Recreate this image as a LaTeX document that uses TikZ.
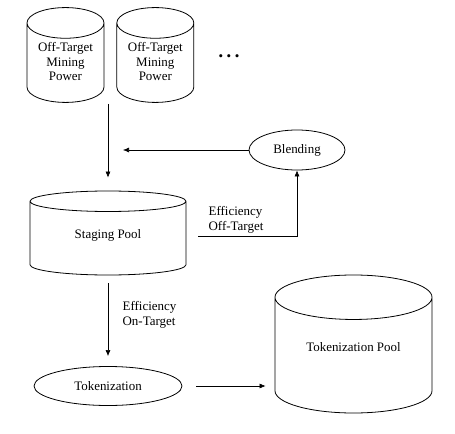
\documentclass[tikz,border=0pt]{standalone}
\usepackage{fontspec}
\setmainfont{Liberation Serif}
\usetikzlibrary{shapes.geometric,positioning,arrows.meta}

\begin{document}
\begin{tikzpicture}[->,>={Latex[length=6bp,width=5bp]},x=1bp,y=-1bp,
  font=\fontsize{13}{15}\selectfont,line width=0.6pt,
  pool/.style={cylinder,draw,shape border rotate=90,align=center,line width=0.8pt,anchor=shape center},
  proc/.style={ellipse,draw,line width=0.8pt}]
  \useasboundingbox (0,0) rectangle (455,434);

  \node[pool,aspect=0.5,text depth=9bp,minimum width=77bp,minimum height=84bp] (m1) at (65.5,55) {Off-Target\\Mining\\Power};
  \node[pool,aspect=0.5,text depth=9bp,minimum width=77bp,minimum height=84bp] (m2) [right=12bp of m1] {Off-Target\\Mining\\Power};
  \node (dots) at (229,58) {\textbullet\hspace{3.5bp}\textbullet\hspace{3.5bp}\textbullet};
  \node[proc,minimum width=96bp,minimum height=40bp] (bl) at (297,150) {Blending};
  \node[pool,aspect=0.28,text depth=11bp,minimum width=156bp,minimum height=84bp] (sp) at (108,233) {Staging Pool};
  \node[proc,minimum width=148bp,minimum height=39bp] (tk) at (108,386) {Tokenization};
  \node[pool,aspect=0.44,text depth=24bp,minimum width=157bp,minimum height=138bp] (tp) at (353.5,344) {Tokenization Pool};
  \node[align=left,anchor=west] (eoff) at (205,219.5) {Efficiency\\Off-Target};
  \node[align=left,anchor=west] (eon) at (119,315) {Efficiency\\On-Target};
  \coordinate (in) at (108,104);
  \coordinate (join) at (123,150);

\path
  (in) edge[shorten >=13bp] (sp)
  (bl) edge (join)
  (sp) edge[shorten <=8bp,shorten >=10bp] (tk)
  (tk.east) edge[shorten <=14bp,shorten >=9bp] (tk.east -| tp.west);
  \draw[shorten <=12bp] ([yshift=-3bp]sp.east |- sp.shape center) -| (bl);
\end{tikzpicture}
\end{document}
